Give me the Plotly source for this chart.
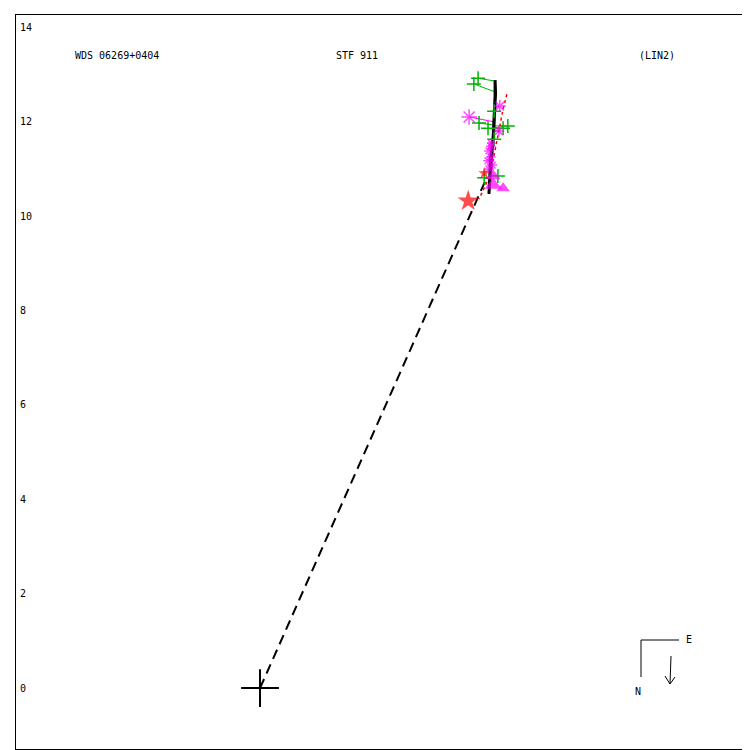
import plotly.graph_objects as go

# ---- data (arcsec, relative to primary) ----
orbit_x = [4.98, 4.98, 4.96, 4.94, 4.89, 4.87, 4.85, 4.86, 4.88, 4.91, 4.95, 4.97, 4.99, 4.98]
orbit_y = [12.88, 12.54, 12.12, 11.69, 11.27, 10.85, 10.47, 10.55, 10.90, 11.30, 11.75, 12.20, 12.60, 12.88]

node_x = [0.0, 4.81]
node_y = [0.0, 10.83]

old_orbit_x = [5.23, 5.15, 5.06, 4.98, 4.89, 4.77, 4.64]
old_orbit_y = [12.58, 12.27, 11.80, 11.38, 10.95, 10.64, 10.36]

micro_x = [4.62, 4.53, 4.96, 4.64, 4.83, 5.15, 5.25, 4.96, 5.04, 4.75]
micro_y = [12.92, 12.80, 12.22, 11.97, 11.86, 11.86, 11.91, 11.63, 10.85, 10.81]
micro_ox = [4.98, 4.98, 4.96, 4.94, 4.94, 4.94, 4.94, 4.92, 4.87, 4.87]
micro_oy = [12.86, 12.63, 12.18, 11.93, 11.84, 11.88, 11.91, 11.67, 10.87, 10.78]

speck_x = [4.43, 5.08, 5.06, 4.89, 4.85, 4.89, 4.83, 4.92, 4.85, 4.90]
speck_y = [12.10, 12.33, 11.80, 11.48, 11.38, 11.25, 11.17, 11.08, 11.00, 11.55]
speck_size = [13, 10, 9, 8, 8, 8, 8, 8, 8, 7]
speck_ox = [4.94, 4.97, 4.94, 4.90, 4.90, 4.89, 4.88, 4.88, 4.87, 4.91]
speck_oy = [12.00, 12.30, 11.80, 11.48, 11.38, 11.25, 11.17, 11.08, 11.00, 11.55]

tri_x = [4.94, 4.94, 5.15]
tri_y = [10.66, 10.85, 10.59]
tri_size = [15, 13, 12]

hip_x = [4.41, 4.75]
hip_y = [10.32, 10.91]
hip_size = [16, 9]

ytick_vals = [0, 2, 4, 6, 8, 10, 12, 14]
ytick_text = ["0", "2", "4", "6", "8", "10", "12", "14"]

header = ["WDS 06269+0404", "STF 911", "(LIN2)"]

GREEN = "#00b400"
MAG = "#ff00ff"
RED = "#ff0000"

W, H = 751, 742
L, T, B = 8, 7, 1
PW = W - L
PH = H - T - B


def px(xpix):
    # page pixel -> paper x (layout helper only)
    return (xpix - 15) / PW


def py(ypix):
    return (748 - ypix) / PH


fig = go.Figure()

# O-C lines
for x0, y0, x1, y1 in zip(micro_x, micro_y, micro_ox, micro_oy):
    fig.add_trace(go.Scatter(x=[x0, x1], y=[y0, y1], mode="lines",
                             line=dict(color=GREEN, width=1), hoverinfo="skip", showlegend=False))
for x0, y0, x1, y1 in zip(speck_x, speck_y, speck_ox, speck_oy):
    fig.add_trace(go.Scatter(x=[x0, x1], y=[y0, y1], mode="lines",
                             line=dict(color=MAG, width=1), hoverinfo="skip", showlegend=False))

# line from primary to periastron
fig.add_trace(go.Scatter(x=node_x, y=node_y, mode="lines",
                         line=dict(color="black", width=2, dash="10px,6px"), showlegend=False))
# previous orbit
fig.add_trace(go.Scatter(x=old_orbit_x, y=old_orbit_y, mode="lines",
                         line=dict(color=RED, width=1.5, dash="dot"), showlegend=False))
# orbit
fig.add_trace(go.Scatter(x=orbit_x, y=orbit_y, mode="lines",
                         line=dict(color="black", width=3), showlegend=False))

fig.add_trace(go.Scatter(x=micro_x, y=micro_y, mode="markers",
                         marker=dict(symbol="cross-thin", size=10, line=dict(color=GREEN, width=1.5)),
                         showlegend=False))
fig.add_trace(go.Scatter(x=speck_x, y=speck_y, mode="markers",
                         marker=dict(symbol="asterisk", size=speck_size, line=dict(color=MAG, width=1.5)),
                         showlegend=False))
fig.add_trace(go.Scatter(x=tri_x, y=tri_y, mode="markers",
                         marker=dict(symbol="triangle-up", size=tri_size, color=MAG, line=dict(width=0)),
                         showlegend=False))
fig.add_trace(go.Scatter(x=hip_x, y=hip_y, mode="markers",
                         marker=dict(symbol="star", size=hip_size, color=RED, line=dict(width=0)),
                         showlegend=False))
# primary
fig.add_trace(go.Scatter(x=[0], y=[0], mode="markers",
                         marker=dict(symbol="cross-thin", size=27, line=dict(color="black", width=2)),
                         showlegend=False))

font = dict(family="DejaVu Sans Mono", size=10, color="black")
ann = []
for v, t in zip(ytick_vals, ytick_text):
    ann.append(dict(x=0, xref="paper", y=v, yref="y", text=t, showarrow=False,
                    xanchor="left", yanchor="middle", xshift=2, font=font))
for t, xp in zip(header, [116, 356, 656]):
    ann.append(dict(x=px(xp), xref="paper", y=py(55), yref="paper", text=t, showarrow=False,
                    xanchor="center", yanchor="middle", font=font))
ann.append(dict(x=px(688), xref="paper", y=py(638), yref="paper", text="E", showarrow=False,
                xanchor="center", yanchor="middle", font=font))
ann.append(dict(x=px(637), xref="paper", y=py(690), yref="paper", text="N", showarrow=False,
                xanchor="center", yanchor="middle", font=font))

lk = dict(color="black", width=1)
shapes = [
    dict(type="line", xref="paper", yref="paper", x0=px(640), x1=px(678), y0=py(639), y1=py(639), line=lk),
    dict(type="line", xref="paper", yref="paper", x0=px(640), x1=px(640), y0=py(639), y1=py(676), line=lk),
    dict(type="line", xref="paper", yref="paper", x0=px(670), x1=px(669), y0=py(655), y1=py(683), line=lk),
    dict(type="line", xref="paper", yref="paper", x0=px(669), x1=px(664), y0=py(683), y1=py(675), line=lk),
    dict(type="line", xref="paper", yref="paper", x0=px(669), x1=px(674), y0=py(683), y1=py(676), line=lk),
]

fig.update_layout(
    width=W, height=H,
    margin=dict(l=L, r=0, t=T, b=B),
    plot_bgcolor="white", paper_bgcolor="white",
    annotations=ann, shapes=shapes,
    xaxis=dict(range=[-5.17, -5.17 + PW / 47.2], showgrid=False, zeroline=False, showticklabels=False,
               ticks="", showline=True, linecolor="black", linewidth=1, mirror=True),
    yaxis=dict(range=[-1.29, 14.26], showgrid=False, zeroline=False, showticklabels=False,
               ticks="", showline=True, linecolor="black", linewidth=1, mirror=False),
)

fig.write_html("out.html", post_script="document.body.style.overflow='hidden';")
